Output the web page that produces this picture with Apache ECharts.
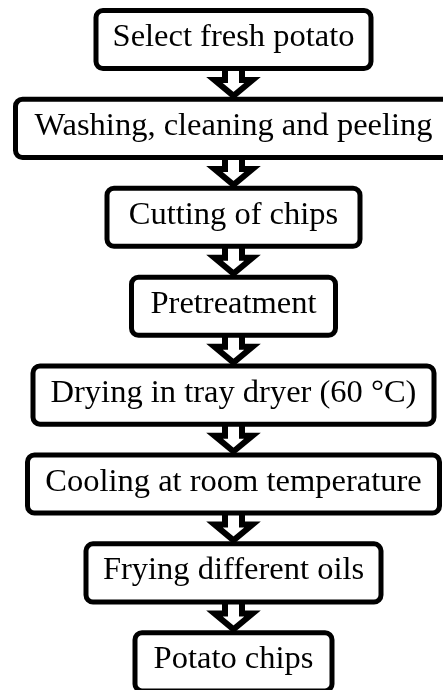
<!DOCTYPE html>
<html><head><meta charset="utf-8">
<script src="https://cdn.jsdelivr.net/npm/echarts@6/dist/echarts.min.js"></script>
<style>html,body{margin:0;padding:0;background:#fff}#c{width:443px;height:690px}</style>
</head><body><div id="c"></div>
<script>
// Flowchart steps (top to bottom)
const steps = [
  'Select fresh potato',
  'Washing, cleaning and peeling',
  'Cutting of chips',
  'Pretreatment',
  'Drying in tray dryer (60 \u00B0C)',
  'Cooling at room temperature',
  'Frying different oils',
  'Potato chips'
];
// Box widths (px units on the hidden x axis)
const boxWidths = [280, 441, 258, 209, 406, 417, 300, 202];
// Arrows link each step to the next
const links = steps.slice(0, -1).map((s, i) => [i, i + 1]);

const CX = 233.5;      // horizontal centre of the chart column
const BOX_H = 0.71;    // box height as fraction of a step
const LW = 5;
const ALW = 6;
const FONT = '32.5px "Liberation Serif", "Times New Roman", serif';

const chart = echarts.init(document.getElementById('c'), null, {renderer: 'canvas'});

function boxRect(api, idx, w) {
  const c = api.coord([CX, idx]);
  const wp = api.size([w, 0])[0];
  const hp = api.size([0, BOX_H])[1];
  return {cx: c[0], cy: c[1], w: wp, h: hp, top: c[1] - hp / 2, bottom: c[1] + hp / 2};
}

chart.setOption({
  animation: false,
  backgroundColor: '#fff',
  grid: {left: 0, right: 0, top: 0, bottom: 0},
  xAxis: {type: 'value', min: 0, max: 443, show: false},
  yAxis: {type: 'value', inverse: true, min: -0.4443, max: 7.317, show: false},
  series: [
    {
      type: 'custom',
      z: 1,
      data: links.map(l => [l[0], l[1], boxWidths[l[0]], boxWidths[l[1]]]),
      encode: {y: [0, 1]},
      renderItem: function (params, api) {
        const a = boxRect(api, api.value(0), api.value(2));
        const b = boxRect(api, api.value(1), api.value(3));
        const bot = a.bottom, top = b.top, cx = a.cx;
        const sw = 8.5, hw = 19, hy = bot + 9;
        return {
          type: 'polygon',
          shape: {points: [
            [cx - sw, bot - 12], [cx - sw, hy], [cx - hw, hy], [cx, top - 1],
            [cx + hw, hy], [cx + sw, hy], [cx + sw, bot - 12]
          ]},
          style: {fill: '#fff', stroke: '#000', lineWidth: ALW, lineJoin: 'miter', miterLimit: 10}
        };
      }
    },
    {
      type: 'custom',
      z: 2,
      data: steps.map((s, i) => [i, boxWidths[i]]),
      encode: {y: 0},
      renderItem: function (params, api) {
        const r = boxRect(api, api.value(0), api.value(1));
        return {
          type: 'group',
          children: [
            {
              type: 'rect',
              shape: {x: r.cx - r.w / 2 + LW / 2, y: r.top + LW / 2, width: r.w - LW, height: r.h - LW, r: 7},
              style: {fill: '#fff', stroke: '#000', lineWidth: LW}
            },
            {
              type: 'text',
              style: {
                text: steps[params.dataIndex], x: r.cx, y: r.cy - 2,
                align: 'center', verticalAlign: 'middle',
                textAlign: 'center', textVerticalAlign: 'middle',
                font: FONT, fill: '#000'
              }
            }
          ]
        };
      }
    }
  ]
});
</script>
</body></html>
